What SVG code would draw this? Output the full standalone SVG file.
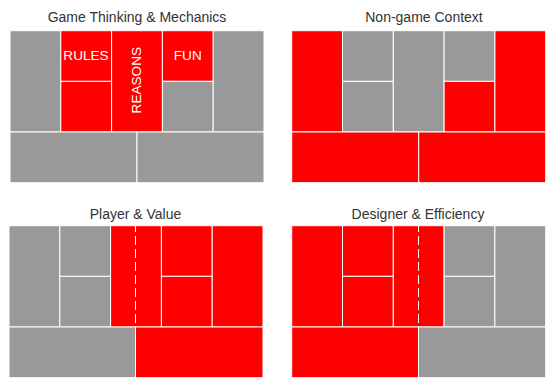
<svg xmlns="http://www.w3.org/2000/svg" width="551" height="381" viewBox="0 0 551 381">
<style>
.g{fill:#999999;stroke:#ffffff;stroke-width:1}
.r{fill:#ff0000;stroke:#ffffff;stroke-width:1}
.t{font-family:"Liberation Sans",Arial,sans-serif;font-size:14px;fill:#333333;text-anchor:middle}
.l{font-family:"Liberation Sans",Arial,sans-serif;font-size:13.6px;fill:#ffffff;text-anchor:middle}
.d{stroke:#ffffff;stroke-width:1;stroke-dasharray:9,4;stroke-dashoffset:2.7;fill:none}
</style>
<rect width="551" height="381" fill="#ffffff"/>
<g id="panel-game-thinking">
<text class="t" x="137" y="21.5">Game Thinking &amp; Mechanics</text>
<rect class="g" x="10" y="30.7" width="50.8" height="101.3"/>
<g id="rules"><rect class="r" x="60.8" y="30.7" width="50.8" height="50.65"/><text class="l" x="86" y="60">RULES</text></g>
<rect class="r" x="60.8" y="81.35" width="50.8" height="50.65"/>
<g id="reasons"><rect class="r" x="111.6" y="30.7" width="50.8" height="101.3"/><text class="l" transform="translate(140.5,80.2) rotate(-90)">REASONS</text></g>
<g id="fun"><rect class="r" x="162.4" y="30.7" width="50.8" height="50.65"/><text class="l" x="187.8" y="60">FUN</text></g>
<rect class="g" x="162.4" y="81.35" width="50.8" height="50.65"/>
<rect class="g" x="213.2" y="30.7" width="50.8" height="101.3"/>
<rect class="g" x="10" y="132" width="127" height="50.7"/>
<rect class="g" x="137" y="132" width="127" height="50.7"/>
</g>
<g id="panel-non-game">
<text class="t" x="424" y="21.5">Non-game Context</text>
<rect class="r" x="291.7" y="30.7" width="50.8" height="101.3"/>
<rect class="g" x="342.5" y="30.7" width="50.8" height="50.65"/>
<rect class="g" x="342.5" y="81.35" width="50.8" height="50.65"/>
<rect class="g" x="393.3" y="30.7" width="50.8" height="101.3"/>
<rect class="g" x="444.1" y="30.7" width="50.8" height="50.65"/>
<rect class="r" x="444.1" y="81.35" width="50.8" height="50.65"/>
<rect class="r" x="494.9" y="30.7" width="50.8" height="101.3"/>
<rect class="r" x="291.7" y="132" width="127" height="50.7"/>
<rect class="r" x="418.7" y="132" width="127" height="50.7"/>
</g>
<g id="panel-player">
<text class="t" x="135.5" y="219">Player &amp; Value</text>
<rect class="g" x="9" y="225.7" width="50.8" height="101.3"/>
<rect class="g" x="59.8" y="225.7" width="50.8" height="50.65"/>
<rect class="g" x="59.8" y="276.35" width="50.8" height="50.65"/>
<rect class="r" x="110.6" y="225.7" width="50.8" height="101.3"/>
<rect class="r" x="161.4" y="225.7" width="50.8" height="50.65"/>
<rect class="r" x="161.4" y="276.35" width="50.8" height="50.65"/>
<rect class="r" x="212.2" y="225.7" width="50.8" height="101.3"/>
<rect class="g" x="9" y="327" width="126.5" height="50.7"/>
<rect class="r" x="135.5" y="327" width="127.5" height="50.7"/>
</g>
<g id="panel-designer">
<text class="t" x="418" y="219">Designer &amp; Efficiency</text>
<rect class="r" x="291.7" y="225.7" width="50.8" height="101.3"/>
<rect class="r" x="342.5" y="225.7" width="50.8" height="50.65"/>
<rect class="r" x="342.5" y="276.35" width="50.8" height="50.65"/>
<rect class="r" x="393.3" y="225.7" width="50.8" height="101.3"/>
<rect class="g" x="444.1" y="225.7" width="50.8" height="50.65"/>
<rect class="g" x="444.1" y="276.35" width="50.8" height="50.65"/>
<rect class="g" x="494.9" y="225.7" width="50.8" height="101.3"/>
<rect class="r" x="291.7" y="327" width="126.8" height="50.7"/>
<rect class="g" x="418.5" y="327" width="127.2" height="50.7"/>
</g>
<g id="connectors">
<line class="d" x1="135.5" y1="225.7" x2="135.5" y2="327"/>
<line class="d" x1="418.5" y1="225.7" x2="418.5" y2="327"/>
</g>
</svg>
